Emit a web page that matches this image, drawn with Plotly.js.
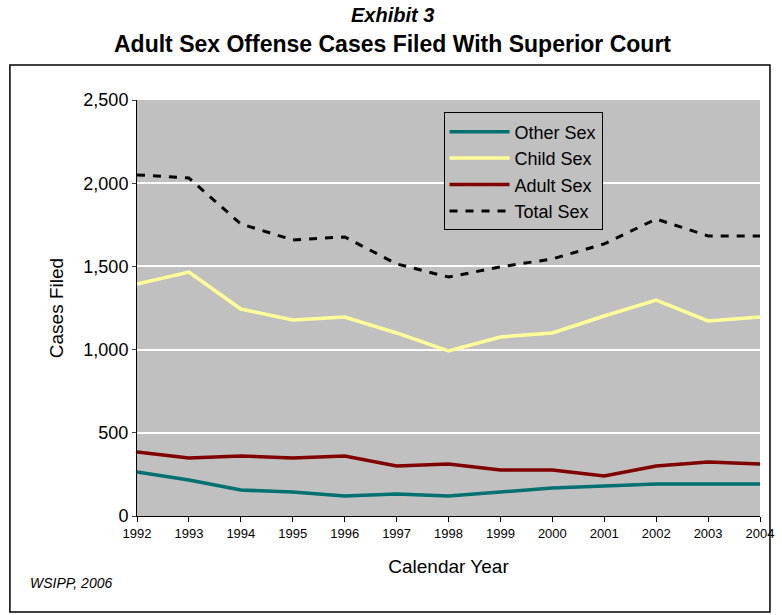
<!DOCTYPE html>
<html><head><meta charset="utf-8">
<script src="https://cdn.plot.ly/plotly-3.0.1.min.js"></script>
<style>body{margin:0;background:#fff}</style>
</head><body>
<div id="chart" style="width:782px;height:615px"></div>
<script>
const years = [1992,1993,1994,1995,1996,1997,1998,1999,2000,2001,2002,2003,2004];
const otherSex = [264,216,156,144,120,132,120,144,168,180,192,192,192];
const childSex = [1394,1466,1244,1178,1196,1100,992,1076,1100,1202,1298,1172,1196];
const adultSex = [385,349,361,349,361,300,312,276,276,240,300,325,312];
const totalSex = [2050,2031,1755,1659,1677,1515,1436,1497,1545,1635,1785,1683,1683];

const traces = [
  {x: years, y: otherSex, name: 'Other Sex', mode: 'lines', line: {color: '#007070', width: 3.5}},
  {x: years, y: childSex, name: 'Child Sex', mode: 'lines', line: {color: '#ffff99', width: 3.5}},
  {x: years, y: adultSex, name: 'Adult Sex', mode: 'lines', line: {color: '#800000', width: 3.5}},
  {x: years, y: totalSex, name: 'Total Sex', mode: 'lines', line: {color: '#000000', width: 3, dash: '8px,8px'}}
];

const layout = {
  width: 782, height: 615,
  margin: {l: 137, r: 22, t: 100, b: 99},
  paper_bgcolor: '#fff', plot_bgcolor: '#c0c0c0',
  font: {family: 'Liberation Sans, Arial, sans-serif', color: '#000', size: 15},
  showlegend: true,
  legend: {x: 0.492, y: 0.97, xanchor: 'left', yanchor: 'top', bgcolor: '#c0c0c0',
    bordercolor: '#000', borderwidth: 1, font: {size: 18}, tracegroupgap: 0, itemwidth: 60},
  xaxis: {range: [1992, 2004], tickvals: years, ticks: 'outside', ticklen: 5, tickcolor: '#000',
    tickfont: {size: 13}, showgrid: false, showline: true, linecolor: '#000', zeroline: false,
    title: {text: 'Calendar Year', font: {size: 19}, standoff: 20}},
  yaxis: {range: [0, 2500], dtick: 500, tickformat: ',', tickfont: {size: 18}, gridcolor: '#fff',
    gridwidth: 1.5, showline: true, linecolor: '#000', zeroline: false, ticks: 'outside', ticklen: 4,
    title: {text: 'Cases Filed', font: {size: 19}, standoff: 14}},
  shapes: [{type: 'rect', xref: 'paper', yref: 'paper', x0: -0.204, x1: 1.016, y0: -0.231, y1: 1.084,
    line: {color: '#000', width: 1.5}, fillcolor: 'rgba(0,0,0,0)', layer: 'below'}],
  annotations: [
    {text: '<b><i>Exhibit 3</i></b>', xref: 'paper', yref: 'paper', x: 0.41, y: 1.235, showarrow: false, font: {size: 20}},
    {text: '<b>Adult Sex Offense Cases Filed With Superior Court</b>', xref: 'paper', yref: 'paper', x: 0.41, y: 1.17, showarrow: false, font: {size: 23}},
    {text: '<i>WSIPP, 2006</i>', xref: 'paper', yref: 'paper', x: -0.175, y: -0.185, xanchor: 'left', showarrow: false, font: {size: 14}}
  ]
};

Plotly.newPlot('chart', traces, layout, {displayModeBar: false});
</script>
</body></html>
